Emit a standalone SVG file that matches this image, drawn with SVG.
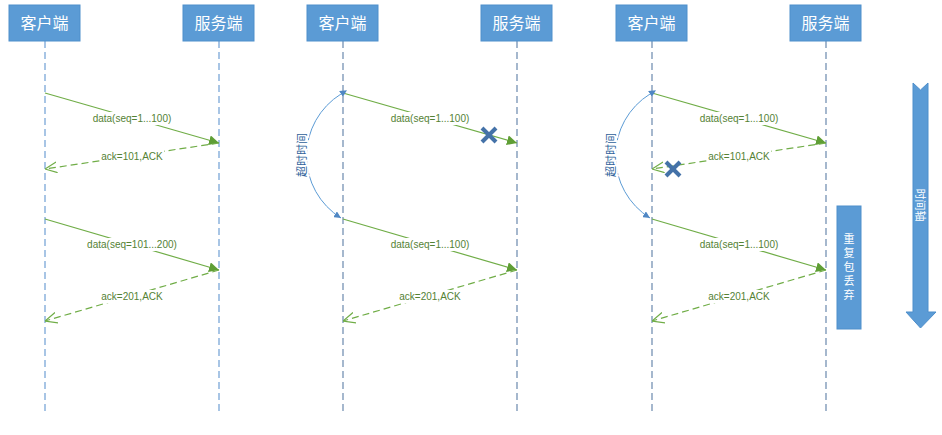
<svg xmlns="http://www.w3.org/2000/svg" width="942" height="435" viewBox="0 0 942 435">
<defs>
<style>
.hdr{fill:#5b9bd5;stroke:#4f8fcb;stroke-width:1}
.hdrt{font-family:"Noto Sans CJK SC","Noto Sans CJK JP",sans-serif;font-size:16px;fill:#fff;text-anchor:middle}
.life{stroke:#6f9fd4;stroke-width:1.2;stroke-dasharray:7,4;fill:none}
.life2{stroke:#6a89ad;stroke-width:1.2;stroke-dasharray:7,4;fill:none}
.msg{stroke:#70ad47;stroke-width:1.2;fill:none}
.ack{stroke:#70ad47;stroke-width:1.2;stroke-dasharray:7,4;fill:none}
.bg{fill:#fff}
.lbl{font-family:"Liberation Sans",Arial,sans-serif;font-size:10px;fill:#548235;text-anchor:middle}
.arc{stroke:#5b9bd5;stroke-width:1;fill:none}
.arct{font-family:"Noto Sans CJK SC",sans-serif;font-size:11px;fill:#2e5f99;text-anchor:middle;stroke:#fff;stroke-width:4;paint-order:stroke}
.x{stroke:#4472a8;stroke-width:4;stroke-linecap:butt}
.side{font-family:"Noto Sans CJK SC",sans-serif;font-size:11px;fill:#fff;text-anchor:middle}
.vert{writing-mode:vertical-rl;letter-spacing:3px}
</style>
<marker id="fill" viewBox="0 0 10 10" refX="10" refY="5" markerWidth="10" markerHeight="10" markerUnits="userSpaceOnUse" orient="auto">
<path d="M0,0 L10,5 L0,10 z" fill="#5f9e35"/>
</marker>
<marker id="open" viewBox="0 0 10 10" refX="10" refY="5" markerWidth="12" markerHeight="12" markerUnits="userSpaceOnUse" orient="auto">
<path d="M0,0.5 L10,5 L0,9.5" fill="none" stroke="#70ad47" stroke-width="1"/>
</marker>
<marker id="blue" viewBox="0 0 10 10" refX="10" refY="5" markerWidth="7" markerHeight="7" markerUnits="userSpaceOnUse" orient="auto">
<path d="M0,0 L10,5 L0,10 z" fill="#4f87c4"/>
</marker>
<marker id="blueS" viewBox="0 0 10 10" refX="0" refY="5" markerWidth="7" markerHeight="7" markerUnits="userSpaceOnUse" orient="auto-start-reverse">
<path d="M0,0 L10,5 L0,10 z" fill="#4f87c4"/>
</marker>
</defs>
<rect width="942" height="435" fill="#fff"/>

<g id="lifelines">
<line class="life" x1="45" y1="41" x2="45" y2="412"/>
<line class="life" x1="219" y1="41" x2="219" y2="412"/>
<line class="life2" x1="343" y1="41" x2="343" y2="412"/>
<line class="life2" x1="517" y1="41" x2="517" y2="412"/>
<line class="life2" x1="652" y1="41" x2="652" y2="412"/>
<line class="life2" x1="826" y1="41" x2="826" y2="412"/>
</g>

<g id="client1"><rect class="hdr" x="9" y="5" width="71" height="36"/><text class="hdrt" x="44.5" y="29">客户端</text></g>
<g id="server1"><rect class="hdr" x="183" y="5" width="71" height="36"/><text class="hdrt" x="218.5" y="29">服务端</text></g>
<g id="client2"><rect class="hdr" x="307" y="5" width="71" height="36"/><text class="hdrt" x="342.5" y="29">客户端</text></g>
<g id="server2"><rect class="hdr" x="481" y="5" width="71" height="36"/><text class="hdrt" x="516.5" y="29">服务端</text></g>
<g id="client3"><rect class="hdr" x="616" y="5" width="71" height="36"/><text class="hdrt" x="651.5" y="29">客户端</text></g>
<g id="server3"><rect class="hdr" x="790" y="5" width="71" height="36"/><text class="hdrt" x="825.5" y="29">服务端</text></g>

<g id="connectors">
<!-- panel 1 -->
<line class="msg" x1="45" y1="93" x2="219" y2="143" marker-end="url(#fill)"/>
<line class="ack" x1="219" y1="143" x2="45" y2="169" marker-end="url(#open)"/>
<line class="msg" x1="45" y1="219" x2="219" y2="270" marker-end="url(#fill)"/>
<line class="ack" x1="219" y1="270" x2="45" y2="321" marker-end="url(#open)"/>
<!-- panel 2 -->
<line class="msg" x1="343" y1="93" x2="517" y2="143" marker-end="url(#fill)"/>
<line class="msg" x1="343" y1="219" x2="517" y2="270" marker-end="url(#fill)"/>
<line class="ack" x1="517" y1="270" x2="343" y2="321" marker-end="url(#open)"/>
<path class="arc" d="M341,94 A73,73 0 0,0 341,218" marker-start="url(#blueS)" marker-end="url(#blue)"/>
<!-- panel 3 -->
<line class="msg" x1="652" y1="93" x2="826" y2="143" marker-end="url(#fill)"/>
<line class="ack" x1="826" y1="143" x2="652" y2="169" marker-end="url(#open)"/>
<line class="msg" x1="652" y1="219" x2="826" y2="270" marker-end="url(#fill)"/>
<line class="ack" x1="826" y1="270" x2="652" y2="321" marker-end="url(#open)"/>
<path class="arc" d="M650,94 A73,73 0 0,0 650,218" marker-start="url(#blueS)" marker-end="url(#blue)"/>
</g>

<g id="labels">
<rect class="bg" x="90" y="112" width="84" height="13"/>
<text class="lbl" x="132" y="122">data(seq=1...100)</text>
<rect class="bg" x="100" y="150" width="64" height="13"/>
<text class="lbl" x="132" y="160">ack=101,ACK</text>
<rect class="bg" x="85" y="238" width="94" height="13"/>
<text class="lbl" x="132" y="248">data(seq=101...200)</text>
<rect class="bg" x="100" y="290" width="64" height="13"/>
<text class="lbl" x="132" y="300">ack=201,ACK</text>
<rect class="bg" x="388" y="112" width="84" height="13"/>
<text class="lbl" x="430" y="122">data(seq=1...100)</text>
<rect class="bg" x="388" y="238" width="84" height="13"/>
<text class="lbl" x="430" y="248">data(seq=1...100)</text>
<rect class="bg" x="398" y="290" width="64" height="13"/>
<text class="lbl" x="430" y="300">ack=201,ACK</text>
<rect class="bg" x="697" y="112" width="84" height="13"/>
<text class="lbl" x="739" y="122">data(seq=1...100)</text>
<rect class="bg" x="707" y="150" width="64" height="13"/>
<text class="lbl" x="739" y="160">ack=101,ACK</text>
<rect class="bg" x="697" y="238" width="84" height="13"/>
<text class="lbl" x="739" y="248">data(seq=1...100)</text>
<rect class="bg" x="707" y="290" width="64" height="13"/>
<text class="lbl" x="739" y="300">ack=201,ACK</text>
<text class="arct" transform="translate(306,155) rotate(-90)">超时时间</text>
<text class="arct" transform="translate(615,155) rotate(-90)">超时时间</text>
</g>

<g id="lost1">
<line class="x" x1="482" y1="128" x2="496" y2="142"/>
<line class="x" x1="496" y1="128" x2="482" y2="142"/>
</g>
<g id="lost2">
<line class="x" x1="666" y1="162" x2="680" y2="176"/>
<line class="x" x1="680" y1="162" x2="666" y2="176"/>
</g>

<g id="discard">
<rect x="837" y="206" width="24" height="123" fill="#5b9bd5" stroke="#4f8fcb" stroke-width="1"/>
<text class="side vert" x="849" y="268">重复包丢弃</text>
</g>

<g id="timeaxis">
<polygon points="913,83 920.5,90 928,83 928,312 936,312 920.5,328 906,312 913,312" fill="#5b9bd5" stroke="#4f8fcb" stroke-width="1"/>
<text class="side" transform="translate(916,205) rotate(90)">时间轴</text>
</g>
</svg>
